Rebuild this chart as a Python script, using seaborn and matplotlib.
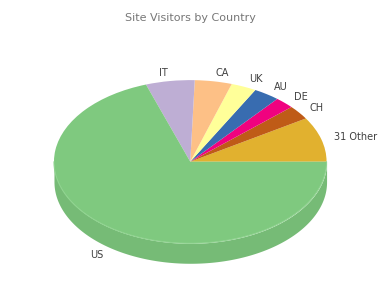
import numpy as np
import matplotlib
matplotlib.use("Agg")
import matplotlib.pyplot as plt
import matplotlib.colors as mcolors
import seaborn as sns

# ---- data ----
countries = ["US", "IT", "CA", "UK", "AU", "DE", "CH", "31 Other"]
visits = [69.8, 5.8, 4.4, 3.0, 3.1, 2.3, 2.8, 8.9]
title = "Site Visitors by Country"

sns.set_theme(style="white")
plt.rcParams['font.family'] = ['DejaVu Sans']

accent = sns.color_palette("Accent", 8).as_hex()
colors = accent[:7] + ["#e1b12f"]

# draw counter-clockwise from 3 o'clock: Other, CH, DE, AU, UK, CA, IT, US
labels_d = countries[::-1]
vals_d = visits[::-1]
cols_d = colors[::-1]

depth = 0.245  # extrusion, in vertical radius units

fig = plt.figure(figsize=(3.8, 3.0), dpi=100)
ax = fig.add_axes([0, 0, 1, 1])

# side band (visible for the front half, angles 180..360)
total = sum(vals_d)
start = 0.0
for v, c in zip(vals_d, cols_d):
    a1 = start
    a2 = start + 360.0 * v / total
    start = a2
    lo, hi = max(a1, 180.0), min(a2, 360.0)
    if hi <= lo:
        continue
    th = np.radians(np.linspace(lo, hi, 200))
    xs = np.cos(th)
    ys = np.sin(th)
    side = tuple(np.array(mcolors.to_rgb(c)) * 0.93)
    ax.fill_between(xs, ys - depth, ys, color=side, linewidth=0, zorder=1)

wedges, texts = ax.pie(vals_d, labels=labels_d, colors=cols_d, startangle=0,
                       counterclock=True, labeldistance=1.1,
                       wedgeprops=dict(linewidth=0, zorder=2),
                       textprops=dict(fontsize=7, color="#404040"))
for t in texts:
    x, y = t.get_position()
    if y < 0:
        t.set_position((x, y - depth))

# light rim highlight on the front edge of the top face
th = np.radians(np.linspace(180, 360, 300))
ax.plot(np.cos(th), np.sin(th), color="#8fd38f", lw=0.8, zorder=3)

ax.set_aspect("auto")
ax.set_xlim(-1.396, 1.392)
ax.set_ylim(-1.695, 1.982)
ax.axis("off")

fig.text(0.5, 1 - 18 / 300, title, ha="center", va="center",
         fontsize=8, color="#777777")

fig.savefig("out.png", dpi=100, facecolor="white")
